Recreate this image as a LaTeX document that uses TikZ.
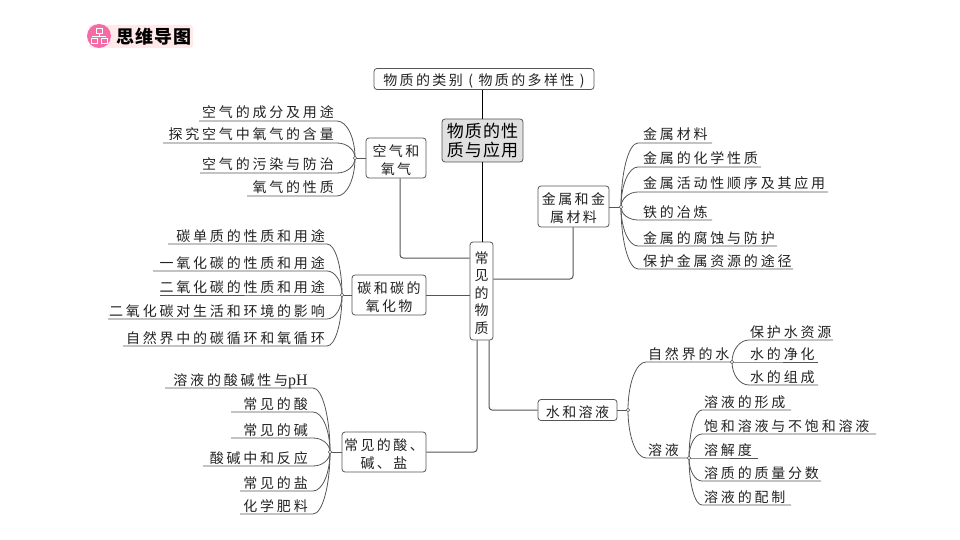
\documentclass[tikz,border=0pt]{standalone}
\usepackage{fontspec}
\usetikzlibrary{calc}
\setmainfont{Liberation Serif}
\newfontfamily\cjk[LetterSpace=20]{Noto Sans CJK SC}
\newfontfamily\cjktight[LetterSpace=17]{Noto Sans CJK SC}
\newfontfamily\cjkhead[LetterSpace=6]{Noto Sans CJK SC}
\newfontfamily\latinf{Liberation Serif}
\definecolor{inkc}{HTML}{222222}
\definecolor{linec}{HTML}{555555}
\newcommand{\dn}{\rule{0pt}{15.3pt}}
\newcommand{\textgap}{-3}
\tikzset{
  x=1pt,y=-1pt,
  boxnode/.style={draw=linec,line width=0.8pt,rounded corners=3pt,fill=white,inner sep=0pt,align=center,text=inkc,font=\cjktight\fontsize{14}{18}\selectfont},
  leaftext/.style={inner sep=0pt,text=inkc,font=\cjk\fontsize{14}{16}\selectfont},
  leafline/.style={draw=linec,line width=0.8pt},
  mainline/.style={draw=linec,line width=1pt,rounded corners=3pt},
  trunk/.style={draw=black,line width=1.3pt},
  hubdot/.style={circle,draw=linec,fill=white,line width=0.6pt,inner sep=0pt,minimum size=3.6pt},
}
% left-side leaf: name, x start, y, x end, text, hub
\newcommand{\leafleft}[6]{%
  \coordinate (#1a) at (#2,#3);
  \coordinate (#1b) at (#4,#3);
  \node[leaftext,anchor=base east] (#1) at ($(#4,#3)+(\textgap,-3)$) {#5};
  \draw[leafline] (#1a) -- (#1b) .. controls ($(#1b)!.55!(#6|-#1b)$) and ($(#6)!.55!(#6|-#1b)$) .. (#6);
}
% right-side leaf: name, x text left, y, x end, text, hub, x start of line
\newcommand{\leafright}[7]{%
  \coordinate (#1a) at (#7,#3);
  \coordinate (#1b) at (#4,#3);
  \node[leaftext,anchor=base west] (#1) at ($(#2,#3)+(0,-3)$) {#5};
  \draw[leafline] (#1b) -- (#1a) .. controls ($(#1a)!.55!(#6|-#1a)$) and ($(#6)!.55!(#6|-#1a)$) .. (#6);
}
\begin{document}
\begin{tikzpicture}
\useasboundingbox (0,0) rectangle (960,540);
% badge
\node[fill=pink!35,rounded corners=3pt,minimum width=104pt,minimum height=23pt,inner sep=0pt] (badge) at (141,36.5) {};
\node[circle,fill=magenta!45!pink,minimum size=24pt,inner sep=0pt] (badgeicon) at (99,36) {};
\draw[white,line width=1pt] (96,28.5) rectangle (102,33.5);
\draw[white,line width=1pt] (91,39) rectangle (97,44);
\draw[white,line width=1pt] (101,39) rectangle (107,44);
\draw[white,line width=1pt] (92,36.5) -- (106,36.5) (99,33.5) -- (99,36.5);
\node[inner sep=0pt,anchor=west,text=black,font=\cjkhead\bfseries\fontsize{18}{20}\selectfont] (badgetext) at (116,36.5) {思维导图};

% main boxes
\node[boxnode,minimum width=220pt,minimum height=21pt] (top) at (484,79) {\dn 物质的类别 ( 物质的多样性 )};
\node[boxnode,fill=black!12,minimum width=81pt,minimum height=43pt,font=\cjkhead\fontsize{17}{19.5}\selectfont,text=black] (root) at (482.5,140.5) {物质的性\\质与应用};
\node[boxnode,minimum width=23pt,minimum height=98pt,font=\cjk\fontsize{14}{17.5}\selectfont] (core) at (481.5,291) {\dn 常\\见\\的\\物\\质};
\node[boxnode,minimum width=60pt,minimum height=40pt] (air) at (396,158) {\dn 空气和\\氧气};
\node[boxnode,minimum width=74pt,minimum height=40pt] (carbon) at (389,295) {\dn 碳和碳的\\氧化物};
\node[boxnode,minimum width=84pt,minimum height=40pt] (acid) at (384,452) {\dn 常见的酸、\\碱、盐};
\node[boxnode,minimum width=71pt,minimum height=41pt] (metal) at (573.5,206.5) {\dn 金属和金\\属材料};
\node[boxnode,minimum width=79pt,minimum height=21pt] (water) at (577.5,410) {\dn 水和溶液};

% trunk and branches
\draw[trunk] (top.south -| root) -- (root.north);
\draw[trunk] (root.south) -- (core.north -| root);
\draw[mainline] (air.south -| 400,0) |- (core.west |- 0,258);
\draw[mainline] (carbon.east) -- (core.west |- carbon.east);
\draw[mainline] (acid.east) -| (477,0 |- core.south);
\draw[mainline] (489,0 |- core.south) |- (water.west);
\draw[mainline] (core.east |- 0,279) -| (metal.south -| 573,0);

% hubs
\coordinate (airhub) at (355,158);
\coordinate (carbonhub) at (342,295);
\coordinate (acidhub) at (330,452);
\coordinate (metalhub) at (621,207);
\coordinate (waterhub) at (628,410);
\coordinate (naturehub) at (732,362);
\coordinate (solnhub) at (689,458);

% air
\draw[leafline] (air.west) -- (airhub);
\renewcommand{\textgap}{-3}
\leafleft{aa}{199}{121}{337}{空气的成分及用途}{airhub}
\leafleft{ab}{163}{143}{337}{探究空气中氧气的含量}{airhub}
\leafleft{ac}{200}{173}{337}{空气的污染与防治}{airhub}
\leafleft{ad}{247}{196}{337}{氧气的性质}{airhub}
% carbon
\draw[leafline] (carbon.west) -- (carbonhub);
\renewcommand{\textgap}{-2}
\leafleft{ca}{168}{244}{327}{碳单质的性质和用途}{carbonhub}
\leafleft{cb}{153}{271}{327}{一氧化碳的性质和用途}{carbonhub}
\leafleft{cc}{160}{295}{327}{二氧化碳的性质和用途}{carbonhub}
\leafleft{cd}{108}{319}{327}{二氧化碳对生活和环境的影响}{carbonhub}
\leafleft{ce}{123}{346}{327}{自然界中的碳循环和氧循环}{carbonhub}
% acid
\draw[leafline] (acid.west) -- (acidhub);
\renewcommand{\textgap}{-5}
\leafleft{da}{165}{388}{313}{溶液的酸碱性与{\latinf\fontsize{16}{16}\selectfont pH}}{acidhub}
\leafleft{db}{231}{412}{313}{常见的酸}{acidhub}
\leafleft{dc}{231}{438}{313}{常见的碱}{acidhub}
\leafleft{dd}{203}{466}{313}{酸碱中和反应}{acidhub}
\leafleft{de}{240}{491}{313}{常见的盐}{acidhub}
\leafleft{df}{240}{514}{313}{化学肥料}{acidhub}
% metal
\draw[leafline] (metal.east |- metalhub) -- (metalhub);
\leafright{ma}{643}{143}{712}{金属材料}{metalhub}{638}
\leafright{mb}{643}{167}{761}{金属的化学性质}{metalhub}{638}
\leafright{mc}{643}{192}{828}{金属活动性顺序及其应用}{metalhub}{638}
\leafright{md}{643}{220}{712}{铁的冶炼}{metalhub}{638}
\leafright{me}{643}{246}{777}{金属的腐蚀与防护}{metalhub}{638}
\leafright{mf}{643}{269}{793}{保护金属资源的途径}{metalhub}{638}
% water
\draw[leafline] (water.east) -- (waterhub);
\leafright{wa}{648}{362}{732}{自然界的水}{waterhub}{646}
\leafright{wb}{648}{458}{689}{溶液}{waterhub}{646}
\leafright{na}{750}{340}{833}{保护水资源}{naturehub}{749}
\leafright{nb}{750}{362}{818}{水的净化}{naturehub}{749}
\leafright{nc}{750}{385}{818}{水的组成}{naturehub}{749}
\leafright{sa}{704}{410}{791}{溶液的形成}{solnhub}{702}
\leafright{sb}{704}{434}{876}{饱和溶液与不饱和溶液}{solnhub}{702}
\leafright{sc}{704}{458}{758}{溶解度}{solnhub}{702}
\leafright{sd}{704}{481}{821}{溶质的质量分数}{solnhub}{702}
\leafright{se}{704}{505}{791}{溶液的配制}{solnhub}{702}

\foreach \h in {airhub,carbonhub,acidhub,metalhub,waterhub,naturehub,solnhub}
  \node[hubdot] at (\h) {};
\end{tikzpicture}
\end{document}
